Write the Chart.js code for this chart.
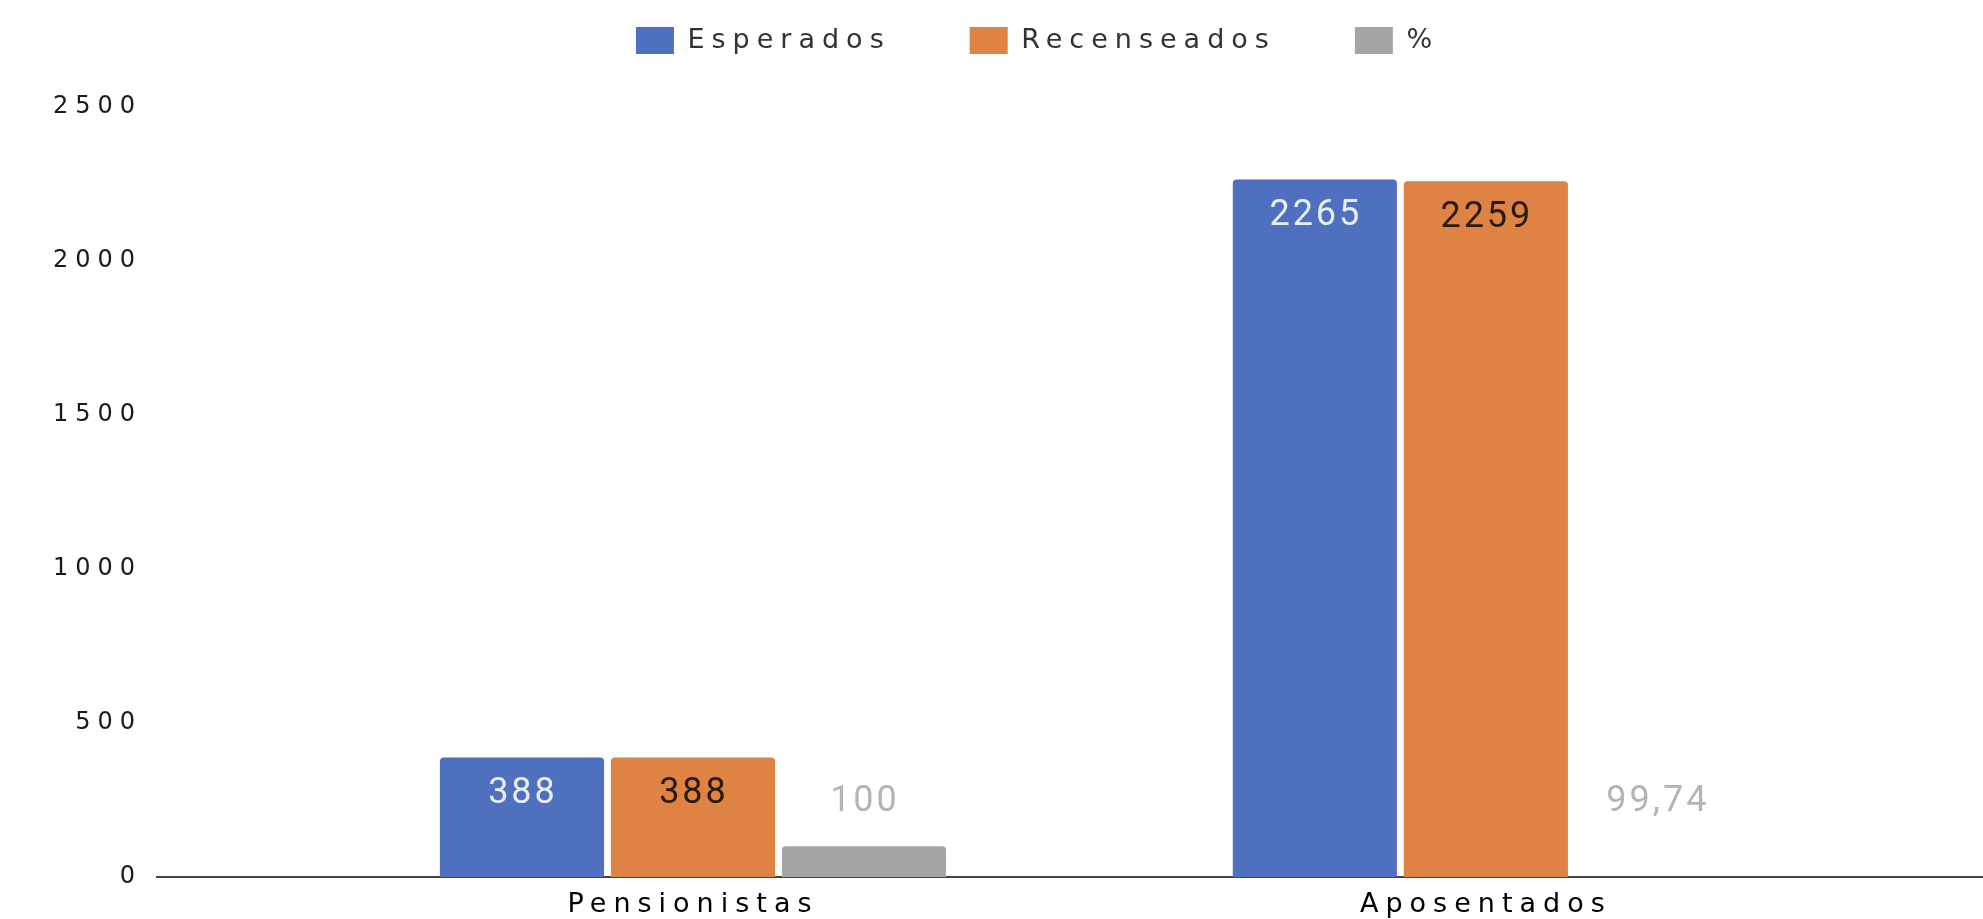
<!DOCTYPE html>
<html>
<head>
<meta charset="utf-8">
<script src="https://cdn.jsdelivr.net/npm/chart.js@4.4.0/dist/chart.umd.min.js"></script>
<style>
  html, body { margin: 0; padding: 0; background: #fff; }
  #grafico { display: block; }
</style>
</head>
<body>
<canvas id="grafico" width="1983" height="919"></canvas>
<script>
const categorias = ['Pensionistas', 'Aposentados'];
const esperados = [388, 2265];
const recenseados = [388, 2259];
const percentual = [100, 99.74];
const yTicks = [0, 500, 1000, 1500, 2000, 2500];

const toPoints = arr => arr.map((v, i) => ({ x: i, y: v }));
const formatBR = v => String(v).replace('.', ',');

// letterSpacing is lost when the canvas gets resized, so set it again before layout and draw
const espacamento = {
  id: 'espacamento',
  beforeUpdate(chart) { chart.ctx.letterSpacing = '7px'; },
  beforeDraw(chart) { chart.ctx.letterSpacing = '7px'; }
};

// legend sits higher (negative top padding), give it back some height below
// and nudge the items a little to the right like in the original
const legendaAlta = {
  id: 'legendaAlta',
  beforeInit(chart) {
    const legend = chart.legend;
    const fitOriginal = legend.fit;
    const drawOriginal = legend.draw;
    legend.fit = function () {
      fitOriginal.call(this);
      this.height += 43;
    };
    legend.draw = function () {
      this.ctx.save();
      this.ctx.translate(46, 0);
      drawOriginal.call(this);
      this.ctx.restore();
    };
  }
};

// value labels on the bars
const rotulos = {
  id: 'rotulos',
  afterDatasetsDraw(chart) {
    const ctx = chart.ctx;
    ctx.save();
    ctx.letterSpacing = '3px';
    ctx.font = '36px Roboto';
    ctx.textAlign = 'center';
    ctx.textBaseline = 'middle';
    chart.data.datasets.forEach((ds, i) => {
      const meta = chart.getDatasetMeta(i);
      meta.data.forEach((bar, j) => {
        ctx.fillStyle = ds.labelColor;
        const y = ds.labelInside ? bar.y + 37 : bar.y - 44;
        ctx.fillText(formatBR(ds.data[j].y), bar.x + 1, y);
      });
    });
    ctx.restore();
  }
};

const chart = new Chart(document.getElementById('grafico'), {
  type: 'bar',
  data: {
    datasets: [
      {
        label: 'Esperados',
        data: toPoints(esperados),
        backgroundColor: '#4e70be',
        labelColor: '#e8eef8',
        labelInside: true
      },
      {
        label: 'Recenseados',
        data: toPoints(recenseados),
        backgroundColor: '#de8344',
        labelColor: '#2a1a0c',
        labelInside: true
      },
      {
        label: '%',
        data: toPoints(percentual),
        backgroundColor: ['#a5a5a5', 'rgba(165,165,165,0)'],
        labelColor: '#b4b4b4',
        labelInside: false
      }
    ]
  },
  options: {
    responsive: false,
    animation: false,
    layout: { padding: { top: -52, left: 0, right: 0, bottom: 0 } },
    datasets: {
      bar: { categoryPercentage: 0.647, barPercentage: 0.96, borderRadius: 4 }
    },
    plugins: {
      legend: {
        labels: {
          font: { family: 'DejaVu Sans', size: 27 },
          color: '#333',
          boxWidth: 38,
          boxHeight: 27,
          padding: 79
        }
      },
      tooltip: { enabled: false }
    },
    scales: {
      x: {
        type: 'linear',
        min: -0.676,
        max: 1.627,
        offset: false,
        grid: { display: false, drawTicks: false, offset: false },
        border: { display: true, color: '#444', width: 2 },
        afterBuildTicks: s => { s.ticks = categorias.map((c, i) => ({ value: i })); },
        ticks: {
          callback: v => categorias[v],
          font: { family: 'DejaVu Sans', size: 27 },
          color: '#000',
          padding: 12,
          maxRotation: 0,
          autoSkip: false
        },
        afterFit: s => { s.height = 42; }
      },
      y: {
        min: 0,
        max: 2500,
        afterBuildTicks: s => { s.ticks = yTicks.map(v => ({ value: v })); },
        grid: { display: false, drawTicks: false },
        border: { display: false },
        ticks: {
          callback: v => String(v),
          font: { family: 'DejaVu Sans', size: 24 },
          color: '#1a1a1a',
          padding: 15
        },
        afterFit: s => { s.width = 157; }
      }
    }
  },
  plugins: [espacamento, legendaAlta, rotulos]
});
</script>
</body>
</html>
